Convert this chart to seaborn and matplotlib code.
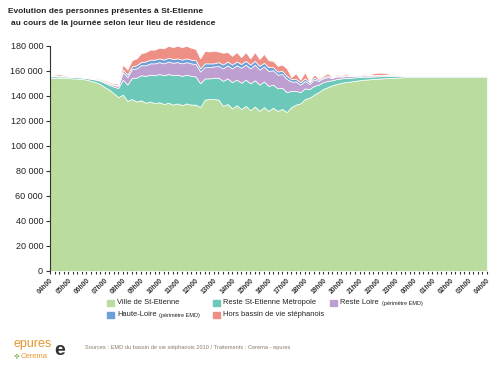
import pandas as pd
import seaborn as sns
import matplotlib.pyplot as plt
from matplotlib.patches import Rectangle
from matplotlib.ticker import FuncFormatter, MultipleLocator

sns.set_style("white")
plt.rcParams["font.family"] = ["Liberation Sans", "DejaVu Sans"]

# quarter-hour steps from 04h00 to 04h00 the next day
hour_labels = ["04h00", "05h00", "06h00", "07h00", "08h00", "09h00", "10h00", "11h00", "12h00",
               "13h00", "14h00", "15h00", "16h00", "17h00", "18h00", "19h00", "20h00", "21h00",
               "22h00", "23h00", "00h00", "01h00", "02h00", "03h00", "04h00"]

ville = [154400, 154400, 154300, 154300, 154200, 154000, 153800, 153500, 153000, 152000, 151000, 149500,
         147000, 145000, 142000, 139000,
         141000, 136000, 137500, 135500, 136500, 134500, 135500, 134000, 135000, 133500, 134500, 133000,
         134000, 132500, 134000, 133000, 133000, 131000,
         137000, 137500, 137500, 137000, 132000, 133500, 130000, 132500, 129500, 132000, 128500, 131500,
         128000, 131000, 128000, 130500, 128000, 129500, 127000,
         131000, 133000, 134000, 137500, 138500, 141000, 143000, 145500, 147000, 148500, 149500, 150500,
         151000, 151500, 152000, 152500, 153000, 153200, 153500, 153800, 154000, 154200, 154400, 154600,
         154800,
         155000, 155000, 155000, 155000, 155000, 155000, 155000, 155000, 155000, 155000, 155000, 155000,
         155000, 155000, 155000, 155000, 155000, 155000, 155000]

metropole = [1200, 1200, 1200, 1200, 1100, 1100, 1100, 1100, 1200, 1600, 2000, 2600, 3400, 3800, 5300, 7300,
             12000, 13000, 17000, 19000, 20000, 21500, 21500, 22500, 22500, 23000, 23000, 23500, 23000, 23500,
             23000, 23000, 22500, 19000,
             17000, 16500, 17000, 17500, 20000, 20500, 21000, 20500, 21000, 21000, 21500, 21000, 21000, 20500,
             20000, 18500, 18000, 17000, 16000,
             13000, 11000, 9000, 8500, 7000, 7000, 6000, 5500, 5000, 4000, 4000, 3500, 3300, 3000, 2800, 2600,
             2400, 2200, 2000, 1900, 1800, 1700, 1600, 1500, 1200,
             1000, 1000, 1000, 1000, 1000, 1000, 1000, 1000, 1000, 1000, 1000, 1000, 1000, 1000, 1000, 1000,
             1000, 1000, 1000]

loire = [500, 500, 500, 500, 400, 400, 400, 400, 400, 500, 600, 700, 900, 1000, 1300, 1600,
         6000, 6000, 7000, 7500, 8000, 8500, 9000, 9500, 9500, 9500, 10000, 10000, 10000, 10000, 10000, 10000,
         10000, 9500,
         9000, 9000, 9000, 9500, 10000, 10500, 11000, 11500, 12000, 12000, 12000, 12500, 12000, 12000, 12000,
         11500, 11000, 11000, 10500,
         7500, 7500, 6000, 6000, 4000, 5000, 3000, 3000, 3000, 1800, 2000, 1500, 1500, 1200, 1200, 1000, 1000,
         900, 900, 800, 800, 800, 700, 700, 500,
         400, 400, 400, 400, 400, 400, 400, 400, 400, 400, 400, 400, 400, 400, 400, 400, 400, 400, 400]

haute_loire = [200, 200, 200, 200, 200, 200, 200, 200, 200, 200, 300, 300, 400, 400, 500, 600,
               2000, 2000, 2000, 2500, 2500, 3000, 3000, 3000, 3000, 3000, 3000, 3000, 3000, 3000, 3000, 3000,
               3000, 2500,
               3000, 3000, 2500, 3000, 3000, 3000, 3000, 3000, 3000, 3000, 3000, 3000, 3000, 3000, 3000, 2500,
               2500, 2500, 2500,
               2000, 2000, 2000, 2000, 1500, 1500, 1000, 1000, 1000, 600, 700, 600, 600, 500, 500, 400, 400, 400,
               400, 300, 300, 300, 300, 300, 200,
               200, 200, 200, 200, 200, 200, 200, 200, 200, 200, 200, 200, 200, 200, 200, 200, 200, 200, 200]

hors_bassin = [500, 700, 1100, 600, 500, 400, 300, 300, 400, 500, 600, 700, 800, 800, 900, 1000,
               4000, 4000, 5000, 5500, 7000, 7500, 8000, 8000, 8500, 9000, 9500, 9500, 10000, 10000, 10000,
               9500, 9000, 8000,
               10000, 9500, 10000, 8500, 9500, 7500, 7000, 7500, 5500, 7000, 5000, 7000, 5500, 7000, 5500,
               5000, 4500, 5000, 6000,
               1500, 4500, 2000, 5000, 500, 2500, 1000, 1000, 2000, 100, 800, 400, 1100, 300, 500, 500, 700,
               300, 1200, 1700, 1600, 1000, 300, 200, 100,
               100, 100, 100, 100, 100, 100, 100, 100, 100, 100, 100, 100, 100, 100, 100, 100, 100, 100, 100]

series = {
    "Ville de St-Etienne": ville,
    "Reste St-Etienne Métropole": metropole,
    "Reste Loire (périmètre EMD)": loire,
    "Haute-Loire (périmètre EMD)": haute_loire,
    "Hors bassin de vie stéphanois": hors_bassin,
}
colors = {
    "Ville de St-Etienne": "#bbdc9f",
    "Reste St-Etienne Métropole": "#6cc9b9",
    "Reste Loire (périmètre EMD)": "#bd9fd1",
    "Haute-Loire (périmètre EMD)": "#6f9fd8",
    "Hors bassin de vie stéphanois": "#ee8f86",
}

df = pd.concat([pd.DataFrame({"step": range(len(v)), "people": v, "zone": k})
                for k, v in series.items()], ignore_index=True)

fig = plt.figure(figsize=(5, 3.7), dpi=100)
ax = fig.add_axes([0.1, 0.268, 0.874, 0.608])

# seaborn stacks the first hue level on top, so reverse the order
order = list(series.keys())[::-1]
sns.histplot(data=df, x="step", weights="people", hue="zone", hue_order=order,
             palette=colors, discrete=True, multiple="stack", element="poly",
             alpha=1, linewidth=0.5, edgecolor="white", legend=False, ax=ax)

ax.set_xlim(0, 96)
ax.set_ylim(0, 180000)
ax.yaxis.set_major_locator(MultipleLocator(20000))
ax.yaxis.set_major_formatter(FuncFormatter(lambda v, p: f"{int(v):,}".replace(",", " ")))
ax.set_xticks(range(0, 97, 4))
ax.set_xticklabels(hour_labels, rotation=45, ha="right", rotation_mode="anchor",
                   fontsize=4.8, fontweight="bold", color="#333333")
ax.xaxis.set_minor_locator(MultipleLocator(1))
ax.tick_params(axis="x", which="both", bottom=True, length=2.5, width=0.8, color="#333333", pad=2)
ax.tick_params(axis="y", left=True, length=3, width=0.8, color="#333333", labelsize=6.5,
               labelcolor="#222222", pad=2)
ax.set_xlabel("")
ax.set_ylabel("")
for s in ["top", "right", "bottom"]:
    ax.spines[s].set_visible(False)
ax.spines["left"].set_color("#333333")
ax.spines["left"].set_linewidth(0.8)

# legend drawn by hand so the "(périmètre EMD)" part can be smaller
legend_items = [
    ("Ville de St-Etienne", "", 107, 303),
    ("Reste St-Etienne Métropole", "", 213, 303),
    ("Reste Loire", "(périmètre EMD)", 330, 303),
    ("Haute-Loire", "(périmètre EMD)", 107, 315),
    ("Hors bassin de vie stéphanois", "", 213, 315),
]
legend_keys = ["Ville de St-Etienne", "Reste St-Etienne Métropole", "Reste Loire (périmètre EMD)",
               "Haute-Loire (périmètre EMD)", "Hors bassin de vie stéphanois"]
for key, (main, small, px, py) in zip(legend_keys, legend_items):
    fig.add_artist(Rectangle((px / 500, 1 - (py + 2.5) / 370), 6.5 / 500, 5.5 / 370,
                             color=colors[key], transform=fig.transFigure))
    t = fig.text((px + 10) / 500, 1 - py / 370, main, fontsize=5.4, color="#222222", va="center")
    if small:
        ax.annotate(small, xy=(1, 0), xycoords=t, xytext=(2, 0), textcoords="offset points",
                    va="bottom", fontsize=4, color="#222222", annotation_clip=False)

fig.text(0.016, 0.978, "Evolution des personnes présentes à St-Etienne", fontsize=6,
         fontweight="bold", color="#222222", va="top")
fig.text(0.022, 0.945, "au cours de la journée selon leur lieu de résidence", fontsize=6,
         fontweight="bold", color="#222222", va="top")

fig.text(0.026, 0.069, "epures", fontsize=9, color="#e8952c", va="center")
fig.text(0.028, 0.037, "✤", fontsize=5, color="#8cc06a", va="center", family=["DejaVu Sans"])
fig.text(0.042, 0.037, "Cerema", fontsize=5.5, color="#e8952c", va="center")
fig.text(0.108, 0.052, "e", fontsize=14, color="#333333", va="center", fontweight="bold")
fig.text(0.17, 0.06, "Sources : EMD du bassin de vie stéphanois 2010 / Traitements : Cerema - epures",
         fontsize=4.1, color="#8a7a6a", va="center")

fig.savefig("out.png", dpi=100, facecolor="white")
